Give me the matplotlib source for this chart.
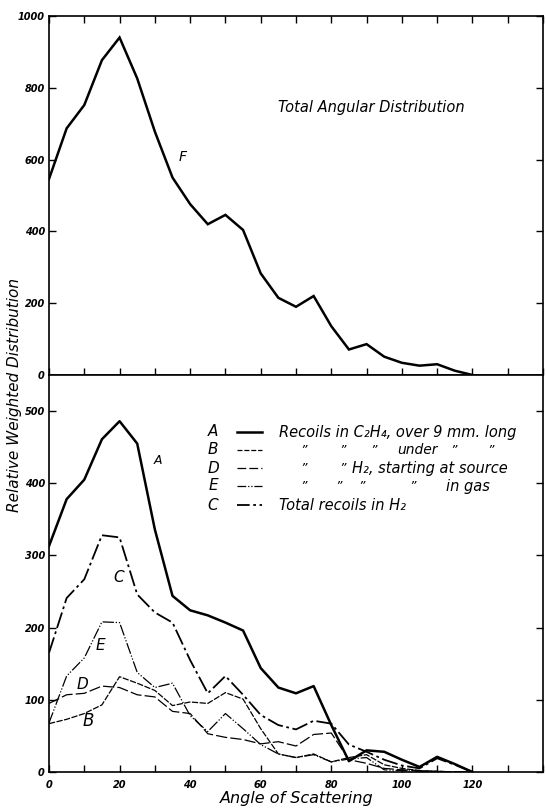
import matplotlib
matplotlib.use("Agg")
import matplotlib.pyplot as plt
from matplotlib.lines import Line2D

# ---------------- data ----------------
angles = [0, 5, 10, 15, 20, 25, 30, 35, 40, 45, 50, 55, 60, 65, 70, 75, 80,
          85, 90, 95, 100, 105, 110, 115, 120]

total_F = [546, 687, 752, 877, 940, 826, 678, 550, 476, 420, 446, 404, 283,
           215, 190, 220, 136, 71, 86, 51, 34, 26, 30, 12, 0]

curve_A = [313, 378, 405, 461, 486, 455, 336, 244, 224, 217, 207, 196, 144,
           117, 109, 119, 65, 15, 30, 28, 17, 7, 21, 11, 0]
curve_B = [67, 73, 81, 93, 132, 123, 113, 92, 97, 95, 110, 101, 60,
           25, 20, 25, 14, 20, 24, 10, 5, 2, 0, 0, 0]
curve_D = [95, 107, 109, 119, 117, 107, 104, 84, 81, 53, 48, 45, 39,
           42, 36, 52, 54, 17, 12, 5, 3, 2, 1, 0, 0]
curve_E = [68, 133, 158, 208, 207, 138, 117, 123, 78, 56, 81, 60, 38,
           25, 20, 24, 14, 18, 20, 3, 2, 1, 1, 0, 0]
curve_C = [165, 241, 267, 328, 325, 246, 221, 207, 155, 109, 133, 107, 79,
           65, 59, 71, 67, 38, 28, 17, 9, 5, 19, 10, 0]

top_yticks = [0, 200, 400, 600, 800, 1000]
bot_yticks = [0, 100, 200, 300, 400, 500]
bot_xticklabels = ["0", "", "20", "", "40", "", "60", "", "80", "", "100", "",
                   "120", "", ""]

legend_letters = ["A", "B", "D", "E", "C"]

# ---------------- figure ----------------
W, H = 546, 809
fig = plt.figure(figsize=(W / 100, H / 100), dpi=100)
fig.patch.set_facecolor("white")


def fx(px):
    return px / W


def fy(py):
    return 1 - py / H


L, R = 49, 543
ax1 = fig.add_axes([fx(L), fy(375), fx(R) - fx(L), fy(16) - fy(375)])
ax2 = fig.add_axes([fx(L), fy(772), fx(R) - fx(L), fy(375) - fy(772)])

tickfont = dict(style="italic", weight="bold", size=7)
txtfont = dict(style="italic", family="DejaVu Sans")

for ax in (ax1, ax2):
    for sp in ax.spines.values():
        sp.set_linewidth(1.2)
    ax.set_xlim(0, 140)
    ax.set_xticks(range(0, 141, 10))

# top panel
ax1.plot(angles, total_F, color="black", lw=1.8, solid_joinstyle="miter")
ax1.set_ylim(0, 1000)
ax1.set_yticks(top_yticks)
ax1.set_yticklabels([str(v) for v in top_yticks], **tickfont)
ax1.tick_params(direction="in", length=5, width=1, top=True, right=True,
                labelbottom=False, pad=3)
ax1.text(65, 744, "Total Angular Distribution", fontsize=10.5, va="center",
         ha="left", **txtfont)
ax1.text(38, 607, "F", fontsize=10, va="center", ha="center", **txtfont)

# bottom panel
ax2.plot(angles, curve_A, color="black", lw=1.8)
ax2.plot(angles, curve_B, color="black", lw=0.9, linestyle=(0, (5, 1.2)))
ax2.plot(angles, curve_D, color="black", lw=0.9, linestyle=(0, (9, 2.5)))
ax2.plot(angles, curve_E, color="black", lw=0.9,
         linestyle=(0, (9, 1.5, 1, 1.5, 1, 1.5)))
ax2.plot(angles, curve_C, color="black", lw=1.3, linestyle=(0, (9, 2, 1.5, 2)))

ax2.set_ylim(0, 550)
ax2.set_yticks(bot_yticks)
ax2.set_yticklabels([str(v) for v in bot_yticks], **tickfont)
ax2.set_xticklabels(bot_xticklabels, **tickfont)
ax2.tick_params(axis="x", direction="in", length=5, width=1, top=False,
                pad=6)
ax2.tick_params(axis="y", direction="in", length=5, width=1, right=True,
                pad=3)

ax2.text(31, 431, "A", fontsize=9, ha="center", va="center", **txtfont)
ax2.text(19.8, 270, "C", fontsize=11, ha="center", va="center", **txtfont)
ax2.text(14.5, 175, "E", fontsize=11, ha="center", va="center", **txtfont)
ax2.text(9.6, 121, "D", fontsize=11, ha="center", va="center", **txtfont)
ax2.text(11, 70, "B", fontsize=12, ha="center", va="center", **txtfont)

# legend block
rows_y = [432, 450, 468, 486, 505]
styles = [dict(lw=1.8, linestyle="-"),
          dict(lw=0.9, linestyle=(0, (4, 1.5))),
          dict(lw=0.9, linestyle=(0, (7, 2.5))),
          dict(lw=0.9, linestyle=(0, (7, 1.5, 1, 1.5, 1, 1.5))),
          dict(lw=1.3, linestyle=(0, (7, 2, 1.5, 2)))]
for letter, y, st in zip(legend_letters, rows_y, styles):
    fig.text(fx(213), fy(y), letter, fontsize=11, ha="center", va="center",
             **txtfont)
    fig.add_artist(Line2D([fx(237), fx(262)], [fy(y), fy(y)], color="black",
                          transform=fig.transFigure, **st))

fig.text(fx(279), fy(432), "Recoils in C₂H₄, over 9 mm. long", fontsize=10.5,
         ha="left", va="center", **txtfont)
for xq in (304, 343, 374, 454, 491):
    fig.text(fx(xq), fy(450), "”", fontsize=9, ha="center", va="center",
             **txtfont)
fig.text(fx(417), fy(450), "under", fontsize=10, ha="center", va="center",
         **txtfont)
for xq in (304, 343):
    fig.text(fx(xq), fy(468), "”", fontsize=9, ha="center", va="center",
             **txtfont)
fig.text(fx(352), fy(468), "H₂, starting at source", fontsize=10.5,
         ha="left", va="center", **txtfont)
for xq in (304, 339, 362, 413):
    fig.text(fx(xq), fy(486), "”", fontsize=9, ha="center", va="center",
             **txtfont)
fig.text(fx(446), fy(486), "in gas", fontsize=10.5, ha="left", va="center",
         **txtfont)
fig.text(fx(279), fy(505), "Total recoils in H₂", fontsize=10.5,
         ha="left", va="center", **txtfont)

# axis labels
fig.text(fx(15), fy(395), "Relative Weighted Distribution", rotation=90,
         fontsize=11, ha="center", va="center", **txtfont)
fig.text(fx(297), fy(799), "Angle of Scattering", fontsize=11.5,
         ha="center", va="center", **txtfont)

fig.savefig("out.png", dpi=100, facecolor="white")
